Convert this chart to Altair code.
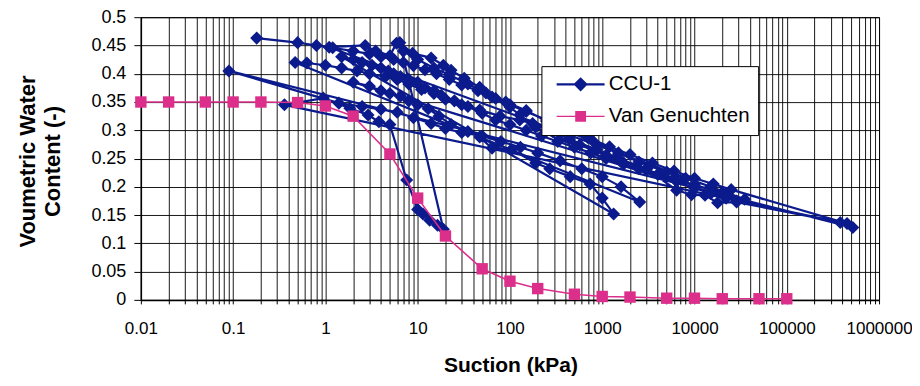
import altair as alt
import pandas as pd

# ---- data ----
ccu_suction = [
    0.18, 0.5, 0.8, 1.2, 2, 3, 4, 5.5, 7, 9, 12, 16, 22, 30, 45, 70, 100, 150, 250, 400, 700, 1200, 2000, 3500, 6000, 10000, 16000, 25000, 450000, 520000,
    0.09, 1.4, 2.5, 4, 6, 9, 14, 20, 30, 50, 80, 130, 200, 350, 600, 1000, 1600, 2550,
    0.47, 0.63, 1, 1.5, 2.2, 3, 4.5, 6, 8, 11, 15, 20, 30, 47, 78, 128, 176, 290, 440, 870, 1400, 3000, 6400, 9300, 13000, 17800, 28600, 380000,
    0.36, 0.95, 1.84, 2.9, 3.8, 5, 7.6, 10, 11.4, 13.5, 16.4, 19,
    6.4, 8.8, 14, 19, 23, 32, 47, 64, 100, 128, 190, 340, 570, 1100, 1600, 3000, 6000, 10000, 20000, 35000,
    1.1, 2.7, 3.5, 5, 5.9, 7, 10, 15, 22, 35, 55, 90, 150, 250, 450, 800, 1500, 2500, 5000, 8000, 15000, 28600,
    2, 3, 4, 5, 6.5, 8, 10, 13, 17, 23, 35, 47, 64, 104, 190, 270, 450, 740, 1000, 1330,
    1.5, 2, 2.5, 3.2, 4, 4.8, 5.5, 6.5, 8, 10, 12, 15, 18, 25, 35, 50, 70, 100, 150, 220, 330, 500, 750, 1100, 1700, 2500, 4000, 6400, 10000, 15000, 22000,
]
ccu_theta = [
    0.463, 0.455, 0.45, 0.446, 0.44, 0.435, 0.43, 0.425, 0.42, 0.414, 0.407, 0.40, 0.39, 0.38, 0.37, 0.356, 0.345, 0.333, 0.318, 0.303, 0.287, 0.271, 0.257, 0.242, 0.228, 0.215, 0.205, 0.195, 0.135, 0.128,
    0.405, 0.348, 0.342, 0.337, 0.332, 0.322, 0.312, 0.303, 0.296, 0.29, 0.28, 0.27, 0.26, 0.246, 0.232, 0.218, 0.20, 0.173,
    0.42, 0.419, 0.415, 0.41, 0.405, 0.40, 0.395, 0.39, 0.382, 0.372, 0.365, 0.355, 0.345, 0.336, 0.325, 0.318, 0.312, 0.298, 0.284, 0.266, 0.252, 0.232, 0.194, 0.186, 0.185, 0.172, 0.173, 0.137,
    0.345, 0.357, 0.339, 0.327, 0.315, 0.31, 0.212, 0.16, 0.152, 0.141, 0.132, 0.125,
    0.455, 0.436, 0.428, 0.415, 0.406, 0.392, 0.376, 0.359, 0.341, 0.327, 0.306, 0.283, 0.274, 0.256, 0.247, 0.23, 0.215, 0.203, 0.19, 0.178,
    0.447, 0.45, 0.44, 0.432, 0.454, 0.44, 0.425, 0.41, 0.398, 0.382, 0.366, 0.35, 0.335, 0.316, 0.296, 0.28, 0.26, 0.244, 0.226, 0.215, 0.20, 0.175,
    0.385, 0.378, 0.37, 0.365, 0.36, 0.352, 0.345, 0.338, 0.325, 0.31, 0.298, 0.288, 0.268, 0.266, 0.242, 0.232, 0.218, 0.205, 0.18, 0.152,
    0.43, 0.425, 0.42, 0.415, 0.41, 0.405, 0.40, 0.395, 0.39, 0.385, 0.375, 0.37, 0.362, 0.352, 0.342, 0.33, 0.318, 0.31, 0.30, 0.29, 0.28, 0.27, 0.26, 0.25, 0.24, 0.232, 0.222, 0.21, 0.198, 0.188, 0.18,
]
vg_suction = [0.01, 0.02, 0.05, 0.1, 0.2, 0.5, 1, 2, 5, 10, 20, 50, 100, 200, 500,
              1000, 2000, 5000, 10000, 20000, 50000, 100000]
vg_theta = [0.35, 0.35, 0.35, 0.35, 0.35, 0.349, 0.343, 0.325, 0.258, 0.18, 0.113, 0.055,
            0.033, 0.02, 0.01, 0.006, 0.005, 0.003, 0.003, 0.002, 0.002, 0.002]

series_names = ["CCU-1", "Van Genuchten"]
x_decades = [0.01, 0.1, 1, 10, 100, 1000, 10000, 100000, 1000000]
y_ticks = [0, 0.05, 0.1, 0.15, 0.2, 0.25, 0.3, 0.35, 0.4, 0.45, 0.5]

NAVY = "#0b1a8c"
PINK = "#dc2f8c"

x_minor = [m * d for d in x_decades[:-1] for m in range(1, 10)] + [x_decades[-1]]

ccu = pd.DataFrame({"suction": ccu_suction, "theta": ccu_theta,
                    "order": list(range(len(ccu_suction))), "series": series_names[0]})
vg = pd.DataFrame({"suction": vg_suction, "theta": vg_theta,
                   "order": list(range(len(vg_suction))), "series": series_names[1]})
both = pd.concat([ccu, vg], ignore_index=True)

x_enc = alt.X(
    "suction:Q",
    scale=alt.Scale(type="log", domain=[0.01, 1000000], nice=False),
    axis=alt.Axis(
        values=x_minor,
        labelExpr="abs(log(datum.value)/LN10 - round(log(datum.value)/LN10)) < 0.001 ? format(datum.value, '.2~f') : ''",
        labelOverlap=False, labelFlush=False,
        labelFont="Liberation Sans",
        labelFontSize=17, labelColor="black", labelPadding=17,
        tickSize=4, tickColor="black",
        grid=True, gridColor="black", gridWidth=1, gridOpacity=0.9,
        domainColor="black", domainWidth=1.5,
        title="Suction (kPa)", titleFont="Liberation Sans", titleFontSize=21,
        titleFontWeight="bold", titleColor="black",
        titleX=370, titleY=66, titleBaseline="middle",
    ),
)
y_enc = alt.Y(
    "theta:Q",
    scale=alt.Scale(domain=[0, 0.5], nice=False),
    axis=alt.Axis(
        values=y_ticks, format=".2~f", labelFlush=False,
        labelFont="Liberation Sans", labelFontSize=18, labelColor="black",
        labelPadding=8, tickSize=7, tickColor="black",
        grid=True, gridColor="black", gridWidth=1, gridOpacity=0.9,
        domainColor="black", domainWidth=1.5,
        title=["Voumetric Water", "Content (-)"], titleFont="Liberation Sans",
        titleFontSize=22, titleFontWeight="bold", titleColor="black",
        titleAngle=270, titleX=-101, titleY=144, titleBaseline="bottom",
        titleAlign="center", titleLineHeight=25,
    ),
)

ccu_line = alt.Chart(ccu).mark_line(color=NAVY, strokeWidth=2.2).encode(
    x=x_enc, y=y_enc, order=alt.Order("order:Q"))
ccu_pts = alt.Chart(ccu).mark_point(shape="diamond", filled=True, size=170,
                                    color=NAVY, opacity=1).encode(x=x_enc, y=y_enc)
vg_line = alt.Chart(vg).mark_line(color=PINK, strokeWidth=1.6).encode(
    x=x_enc, y=y_enc, order=alt.Order("order:Q"))
vg_pts = alt.Chart(vg).mark_point(shape="square", filled=True, size=130,
                                  color=PINK, opacity=1).encode(x=x_enc, y=y_enc)

legend_paths = [
    "M-4,-0.17H4V0.17H-4Z M0,-1.2L1.2,0L0,1.2L-1.2,0Z",
    "M-4,-0.1H4V0.1H-4Z M-0.9,-0.9H0.9V0.9H-0.9Z",
]
leg = alt.Legend(
    title=None, orient="none", legendX=401, legendY=49, direction="vertical",
    fillColor="white", strokeColor="black", padding=8,
    labelFont="Liberation Sans", labelFontSize=20.5, labelColor="black",
    symbolSize=144, symbolOffset=21, labelOffset=18, rowPadding=11,
    symbolOpacity=1, symbolStrokeWidth=0, labelLimit=300,
)
legend_layer = alt.Chart(both).mark_point(filled=True, opacity=0, size=10).encode(
    x=x_enc, y=y_enc,
    color=alt.Color("series:N", scale=alt.Scale(domain=series_names, range=[NAVY, PINK]), legend=leg),
    shape=alt.Shape("series:N", scale=alt.Scale(domain=series_names, range=legend_paths), legend=leg),
)

chart = alt.layer(ccu_line, ccu_pts, vg_line, vg_pts, legend_layer).properties(
    width=739, height=283,
    autosize=alt.AutoSizeParams(type="none"),
    padding={"left": 133, "top": 9, "right": 33, "bottom": 78},
    background="white",
).configure_view(stroke="black", strokeWidth=1)

chart.save("out.html", embed_options={"renderer": "svg", "actions": False})
